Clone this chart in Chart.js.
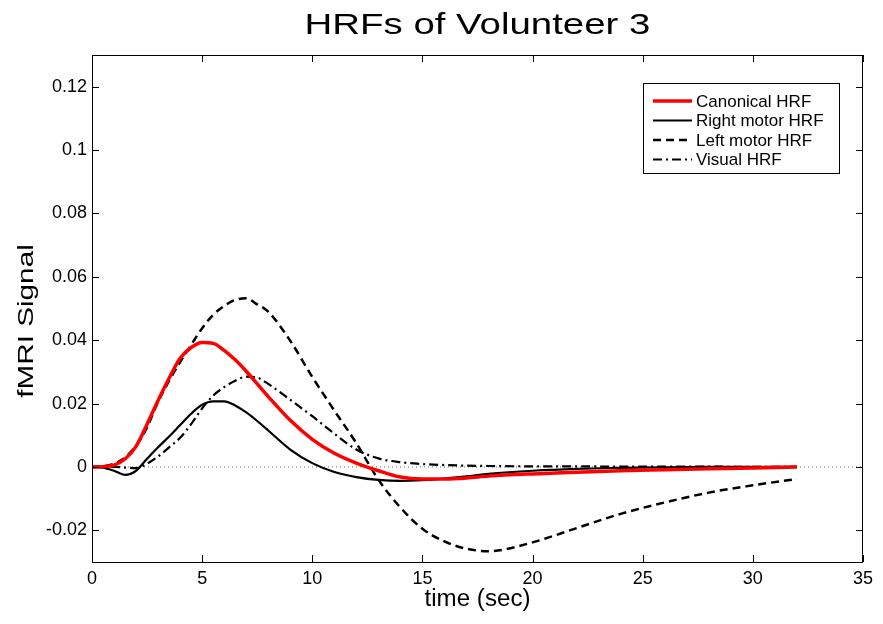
<!DOCTYPE html>
<html>
<head>
<meta charset="utf-8">
<title>HRFs of Volunteer 3</title>
<script src="https://cdn.jsdelivr.net/npm/chart.js@4.4.1/dist/chart.umd.min.js"></script>
<style>
    html, body { margin: 0; padding: 0; background: #fff; }
    #wrap { width: 883px; height: 624px; }
</style>
</head>
<body>
<div id="wrap"><canvas id="hrfChart" width="883" height="624"></canvas></div>
<script>
// sample times (sec), denser around the peak
const timeSec = [0, 0.5, 1, 1.5, 2, 2.5, 3, 3.5, 4, 4.5, 5, 5.5, 6, 6.5, 7, 7.5, 8,
    9, 10, 11, 12, 13, 14, 15, 16, 17, 18, 20, 22, 24, 26, 28, 30, 32];

const canonicalHrf = [0, 0.0001, 0.0006, 0.0025, 0.0065, 0.0135, 0.021, 0.028, 0.0343, 0.0377, 0.0393, 0.039, 0.0368, 0.0338, 0.0302, 0.0262, 0.0222,
    0.0147, 0.0087, 0.0043, 0.0012, -0.0012, -0.0032, -0.0038, -0.0038, -0.0035, -0.0029, -0.0022, -0.0017, -0.0012, -0.0009, -0.0006, -0.0003, 0];

const rightMotorHrf = [0, -0.0002, -0.0012, -0.0025, -0.0012, 0.0026, 0.0062, 0.0096, 0.0132, 0.0168, 0.0196, 0.0207, 0.0207, 0.0194, 0.0172, 0.0145, 0.0115,
    0.0055, 0.0012, -0.0016, -0.0032, -0.0041, -0.0044, -0.0042, -0.0037, -0.003, -0.0022, -0.0012, -0.0006, -0.0003, -0.0001, 0, 0, 0];

const leftMotorHrf = [0, 0.0002, 0.001, 0.003, 0.0067, 0.0125, 0.0205, 0.0272, 0.0331, 0.0385, 0.0438, 0.048, 0.0508, 0.0527, 0.0532, 0.0513, 0.049,
    0.0398, 0.0284, 0.0178, 0.0075, -0.004, -0.0128, -0.0195, -0.0235, -0.0258, -0.0266, -0.0238, -0.0193, -0.0148, -0.0112, -0.0081, -0.0058, -0.0038];

const visualHrf = [0, 0, 0, -0.0002, -0.0004, 0.001, 0.0033, 0.0062, 0.0092, 0.0135, 0.0185, 0.0225, 0.0252, 0.0272, 0.0285, 0.0282, 0.0262,
    0.0212, 0.016, 0.0105, 0.0055, 0.0027, 0.0015, 0.0009, 0.0006, 0.0004, 0.0003, 0.0002, 0.0002, 0.0001, 0.0001, 0.0001, 0, 0];

const seriesNames = ['Canonical HRF', 'Right motor HRF', 'Left motor HRF', 'Visual HRF'];

const xTicks = [0, 5, 10, 15, 20, 25, 30, 35];
const yTicks = [-0.02, 0, 0.02, 0.04, 0.06, 0.08, 0.1, 0.12];

const FONT = '"Liberation Sans", Arial, Helvetica, sans-serif';

function toPoints(ys) {
    return timeSec.map((t, i) => ({ x: t, y: ys[i] }));
}

// text drawn with a horizontal stretch (matlab export look)
function stretchedText(ctx, text, x, y, size, sx, rot) {
    ctx.save();
    ctx.translate(x, y);
    if (rot) ctx.rotate(rot);
    ctx.scale(sx, 1);
    ctx.font = size + 'px ' + FONT;
    ctx.fillStyle = '#000';
    ctx.textAlign = 'center';
    ctx.textBaseline = 'alphabetic';
    ctx.fillText(text, 0, 0);
    ctx.restore();
}

// box, inward ticks, titles and legend
const matlabFrame = {
    id: 'matlabFrame',
    afterDatasetsDraw(chart) {
        const ctx = chart.ctx;
        const a = chart.chartArea;
        const xs = chart.scales.x, ys = chart.scales.y;
        const tl = 7;

        ctx.save();
        ctx.strokeStyle = '#000';
        ctx.lineWidth = 1;
        ctx.strokeRect(Math.round(a.left) + 0.5, Math.round(a.top) + 0.5,
            Math.round(a.right - a.left) - 1, Math.round(a.bottom - a.top));

        ctx.beginPath();
        xTicks.forEach(v => {
            const px = Math.round(xs.getPixelForValue(v)) + 0.5;
            ctx.moveTo(px, a.bottom); ctx.lineTo(px, a.bottom - tl);
            ctx.moveTo(px, a.top); ctx.lineTo(px, a.top + tl);
        });
        yTicks.forEach(v => {
            const py = Math.round(ys.getPixelForValue(v)) + 0.5;
            ctx.moveTo(a.left, py); ctx.lineTo(a.left + tl, py);
            ctx.moveTo(a.right, py); ctx.lineTo(a.right - tl, py);
        });
        ctx.stroke();
        ctx.restore();

        // titles
        stretchedText(ctx, 'HRFs of Volunteer 3', (a.left + a.right) / 2, 34, 30, 1.28, 0);
        stretchedText(ctx, 'time (sec)', (a.left + a.right) / 2, 606, 23, 1.05, 0);
        stretchedText(ctx, 'fMRI Signal', 33, 321, 22, 1.35, -Math.PI / 2);

        // legend box, only the four curves
        const lx = 643, ly = 83, lw = 196, lh = 90;
        ctx.save();
        ctx.fillStyle = '#fff';
        ctx.fillRect(lx, ly, lw, lh);
        ctx.strokeStyle = '#000';
        ctx.lineWidth = 1;
        ctx.strokeRect(lx + 0.5, ly + 0.5, lw, lh);
        chart.data.datasets.slice(0, seriesNames.length).forEach((ds, i) => {
            const y = 101 + i * 19.5;
            ctx.beginPath();
            ctx.strokeStyle = ds.borderColor;
            ctx.lineWidth = ds.borderWidth;
            ctx.setLineDash(ds.borderDash || []);
            ctx.moveTo(653, y);
            ctx.lineTo(692, y);
            ctx.stroke();
            ctx.setLineDash([]);
            ctx.font = '17px ' + FONT;
            ctx.fillStyle = '#000';
            ctx.textAlign = 'left';
            ctx.textBaseline = 'middle';
            ctx.fillText(ds.label, 696, y + 1);
        });
        ctx.restore();
    }
};

const chartData = {
    datasets: [
        {
            label: seriesNames[0],
            data: toPoints(canonicalHrf),
            borderColor: '#ff0000',
            borderWidth: 3.5
        },
        {
            label: seriesNames[1],
            data: toPoints(rightMotorHrf),
            borderColor: '#000',
            borderWidth: 2.2
        },
        {
            label: seriesNames[2],
            data: toPoints(leftMotorHrf),
            borderColor: '#000',
            borderWidth: 2.5,
            borderDash: [8, 5]
        },
        {
            label: seriesNames[3],
            data: toPoints(visualHrf),
            borderColor: '#000',
            borderWidth: 2.2,
            borderDash: [9, 4, 2, 4]
        },
        {
            // dotted zero line
            label: 'zero',
            data: [{ x: 0, y: 0 }, { x: 35, y: 0 }],
            borderColor: '#666',
            borderWidth: 1,
            borderDash: [1, 3],
            cubicInterpolationMode: 'default',
            tension: 0
        }
    ]
};

const tickFont = { family: FONT, size: 18 };

const chartConfig = {
    type: 'line',
    data: chartData,
    options: {
        responsive: false,
        animation: false,
        layout: { padding: { top: 55, right: 20, left: 0, bottom: 0 } },
        elements: {
            point: { radius: 0 },
            line: { cubicInterpolationMode: 'monotone', fill: false }
        },
        plugins: {
            legend: { display: false },
            title: { display: false },
            tooltip: { enabled: false }
        },
        scales: {
            x: {
                type: 'linear',
                min: 0,
                max: 35,
                afterBuildTicks: s => { s.ticks = xTicks.map(v => ({ value: v })); },
                afterFit: s => { s.height = 62; },
                grid: { display: false, drawTicks: false },
                border: { display: false },
                ticks: { color: '#000', font: tickFont, padding: 6, maxRotation: 0 }
            },
            y: {
                min: -0.03,
                max: 0.13,
                afterBuildTicks: s => { s.ticks = yTicks.map(v => ({ value: v })); },
                afterFit: s => { s.width = 92; },
                grid: { display: false, drawTicks: false },
                border: { display: false },
                ticks: {
                    color: '#000',
                    font: tickFont,
                    padding: 5,
                    callback: v => String(+Number(v).toFixed(2))
                }
            }
        }
    },
    plugins: [matlabFrame]
};

const ctx = document.getElementById('hrfChart').getContext('2d');
new Chart(ctx, chartConfig);
</script>
</body>
</html>
